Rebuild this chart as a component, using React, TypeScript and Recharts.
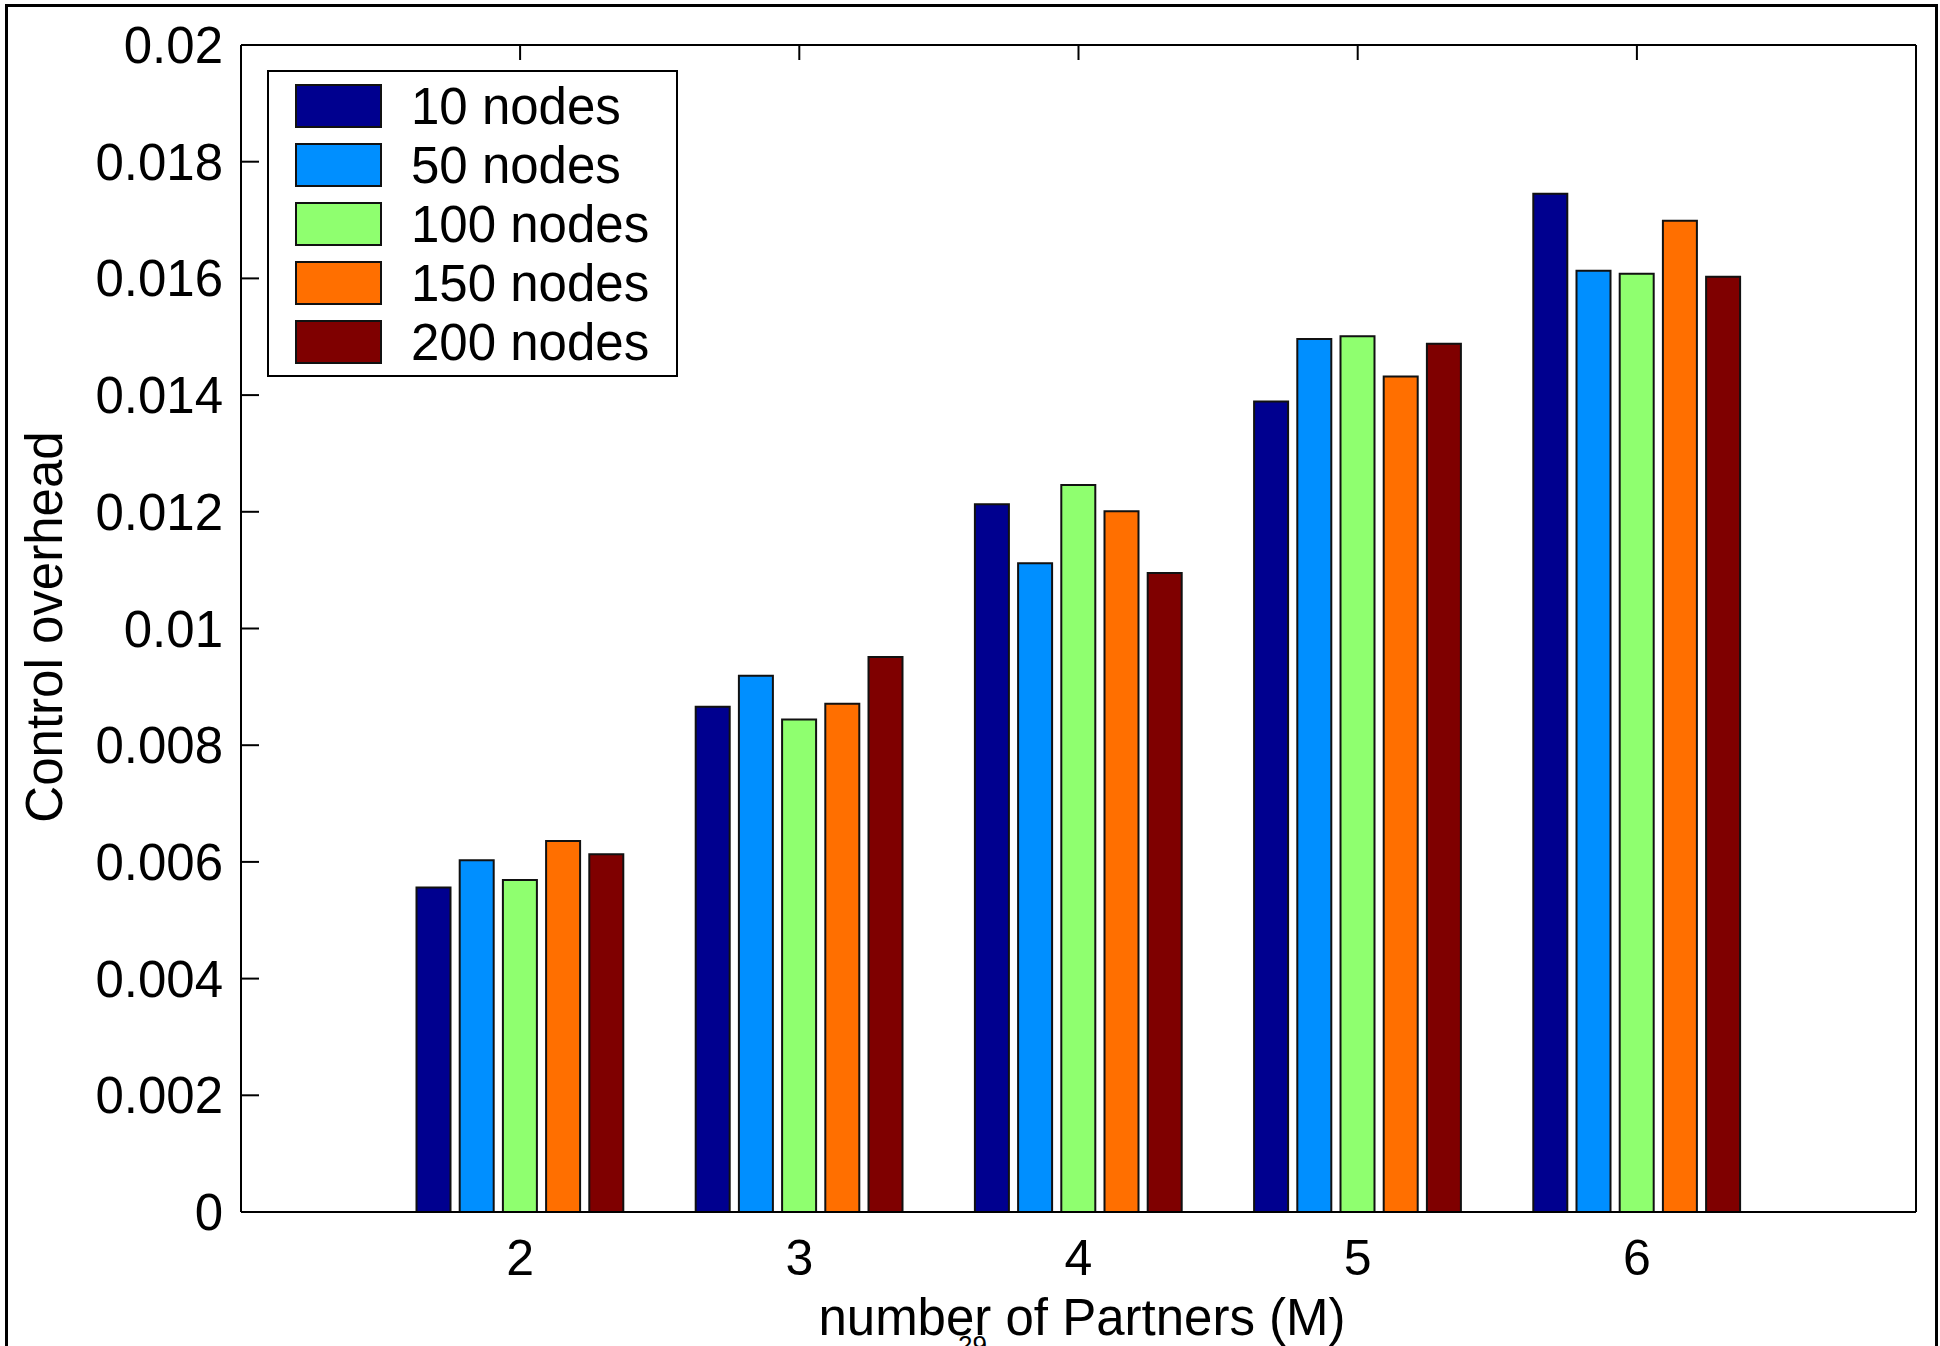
import React from 'react';
import { BarChart, Bar, XAxis, YAxis, Legend, Label } from 'recharts';

const categories = ['2', '3', '4', '5', '6'];
const nodes10 = [0.00556, 0.00866, 0.01213, 0.01389, 0.01745];
const nodes50 = [0.00603, 0.00919, 0.01112, 0.01496, 0.01613];
const nodes100 = [0.00569, 0.00844, 0.01246, 0.01501, 0.01608];
const nodes150 = [0.00636, 0.00871, 0.01201, 0.01432, 0.01699];
const nodes200 = [0.00613, 0.00951, 0.01095, 0.01488, 0.01603];
const yTicks = [0, 0.002, 0.004, 0.006, 0.008, 0.01, 0.012, 0.014, 0.016, 0.018, 0.02];

const seriesDefs = [
  { key: 'n10', name: '10 nodes', values: nodes10, color: '#00008F' },
  { key: 'n50', name: '50 nodes', values: nodes50, color: '#008FFF' },
  { key: 'n100', name: '100 nodes', values: nodes100, color: '#8FFF6F' },
  { key: 'n150', name: '150 nodes', values: nodes150, color: '#FF6F00' },
  { key: 'n200', name: '200 nodes', values: nodes200, color: '#7F0000' },
];

const data = categories.map((m, i) => {
  const row: any = { m };
  seriesDefs.forEach((s) => {
    row[s.key] = s.values[i];
  });
  return row;
});

const FONT = '"Liberation Sans", Arial, Helvetica, sans-serif';

const LeftTick = (props: any) => {
  const { x, y, payload } = props;
  return (
    <g>
      <text x={x} y={y} dy={18} textAnchor="end" fontFamily={FONT} fontSize={51} fill="#000">
        {String(payload.value)}
      </text>
      <line x1={x + 18} x2={x + 36} y1={y} y2={y} stroke="#000" strokeWidth={2} />
    </g>
  );
};

const RightTick = (props: any) => {
  const { x, y } = props;
  return <line x1={x - 18} x2={x} y1={y} y2={y} stroke="#000" strokeWidth={2} />;
};

const TopTick = (props: any) => {
  const { x, y } = props;
  return <line x1={x} x2={x} y1={y} y2={y + 15} stroke="#000" strokeWidth={2} />;
};

const BottomTick = (props: any) => {
  const { x, y, payload } = props;
  return (
    <text x={x} y={y + 63} textAnchor="middle" fontFamily={FONT} fontSize={50} fill="#000">
      {payload.value}
    </text>
  );
};

const seriesOrder = (e: any) => seriesDefs.findIndex((s) => s.key === e.dataKey || s.name === e.value);

const LegendBox = (props: any) => {
  const payload = [...(props.payload || [])].sort((a: any, b: any) => seriesOrder(a) - seriesOrder(b));
  return (
    <div
      style={{
        width: 411,
        height: 307,
        boxSizing: 'border-box',
        border: '2px solid #000',
        background: '#fff',
        paddingTop: 4.5,
        fontFamily: FONT,
      }}
    >
      {payload.map((e: any) => (
        <div key={e.value} style={{ height: 59, display: 'flex', alignItems: 'center' }}>
          <div
            style={{
              width: 87,
              height: 44,
              boxSizing: 'border-box',
              border: '2px solid #111',
              background: e.color,
              marginLeft: 26,
            }}
          />
          <span style={{ marginLeft: 29, fontSize: 51, lineHeight: 1, color: '#000' }}>{e.value}</span>
        </div>
      ))}
    </div>
  );
};

export default function App() {
  return (
    <div
      style={{
        position: 'absolute',
        left: 0,
        top: 0,
        width: 1940,
        height: 1346,
        overflow: 'hidden',
        background: '#fff',
      }}
    >
      <div
        style={{
          position: 'absolute',
          left: 5,
          top: 4,
          width: 1933,
          height: 1420,
          boxSizing: 'border-box',
          border: '3px solid #000',
        }}
      />
      <div style={{ position: 'absolute', left: 0, top: 0 }}>
        <BarChart
          width={1940}
          height={1346}
          data={data}
          margin={{ top: 0, right: 0, bottom: 0, left: 0 }}
          barSize={34}
          barGap={9.2}
        >
          <XAxis
            dataKey="m"
            xAxisId={0}
            orientation="bottom"
            height={134}
            padding={{ left: 139.5, right: 139.5 }}
            axisLine={{ stroke: '#000', strokeWidth: 2 }}
            tickLine={false}
            tickSize={0}
            tickMargin={0}
            tick={<BottomTick />}
          >
            <Label
              content={() => (
                <g>
                  <text x={1082} y={1335} textAnchor="middle" fontFamily={FONT} fontSize={51} fill="#000">
                    number of Partners (M)
                  </text>
                  <text x={958} y={1354} fontFamily={FONT} fontSize={26} fill="#000">
                    29
                  </text>
                </g>
              )}
            />
          </XAxis>
          <XAxis
            dataKey="m"
            xAxisId="top"
            orientation="top"
            height={45}
            padding={{ left: 139.5, right: 139.5 }}
            axisLine={{ stroke: '#000', strokeWidth: 2 }}
            tickLine={false}
            tickSize={0}
            tickMargin={0}
            tick={<TopTick />}
          />
          <YAxis
            yAxisId={0}
            orientation="left"
            width={241}
            type="number"
            domain={[0, 0.02]}
            ticks={yTicks}
            interval={0}
            axisLine={{ stroke: '#000', strokeWidth: 2 }}
            tickLine={false}
            tickSize={0}
            tickMargin={18}
            tick={<LeftTick />}
          >
            <Label
              content={() => (
                <text
                  x={0}
                  y={0}
                  transform="translate(62,627) rotate(-90)"
                  textAnchor="middle"
                  fontFamily={FONT}
                  fontSize={51}
                  fill="#000"
                >
                  Control overhead
                </text>
              )}
            />
          </YAxis>
          <YAxis
            yAxisId="right"
            orientation="right"
            width={24}
            type="number"
            domain={[0, 0.02]}
            ticks={yTicks}
            interval={0}
            axisLine={{ stroke: '#000', strokeWidth: 2 }}
            tickLine={false}
            tickSize={0}
            tickMargin={0}
            tick={<RightTick />}
          />
          <Legend
            layout="vertical"
            align="center"
            verticalAlign="middle"
            itemSorter={null as any}
            content={<LegendBox />}
            wrapperStyle={{ position: 'absolute', left: 267, top: 70, width: 411, height: 307 }}
          />
          {seriesDefs.map((s) => (
            <Bar
              key={s.key}
              dataKey={s.key}
              name={s.name}
              fill={s.color}
              stroke="#111"
              strokeWidth={2}
              xAxisId={0}
              yAxisId={0}
              isAnimationActive={false}
            />
          ))}
        </BarChart>
      </div>
    </div>
  );
}
